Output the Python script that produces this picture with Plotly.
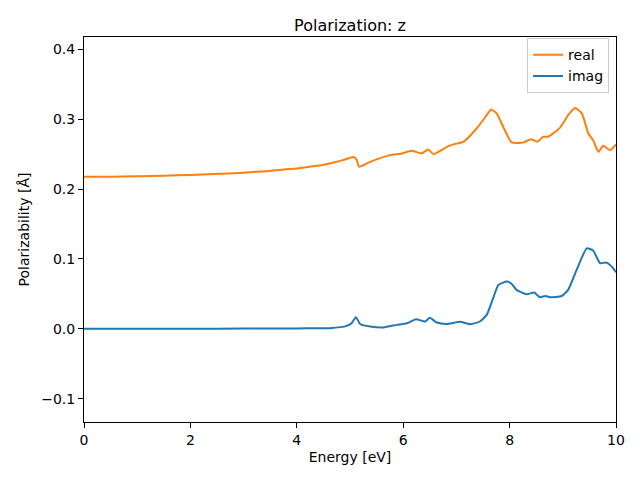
import plotly.graph_objects as go

# Energy grid and values
energy_real = [0.0, 0.5, 1.0, 1.5, 2.0, 2.44, 3.0, 3.5, 3.76, 4.0, 4.3, 4.62, 4.87, 5.06,
               5.12, 5.17, 5.38, 5.75, 5.95, 6.16, 6.35, 6.47, 6.57, 6.85, 7.0, 7.13,
               7.38, 7.57, 7.65, 7.76, 7.88, 8.04, 8.26, 8.40, 8.52, 8.63, 8.73, 8.95,
               9.10, 9.23, 9.36, 9.48, 9.57, 9.67, 9.76, 9.89, 10.0]
real_vals = [0.2176, 0.2178, 0.2185, 0.2192, 0.2203, 0.2214, 0.2235, 0.226, 0.228, 0.2295,
             0.2325, 0.2367, 0.2414, 0.246, 0.243, 0.232, 0.239, 0.2486, 0.2505, 0.2547,
             0.251, 0.2567, 0.25, 0.2614, 0.265, 0.2676, 0.2867, 0.3057, 0.314, 0.308,
             0.289, 0.2667, 0.2667, 0.2714, 0.2676, 0.2748, 0.2752, 0.288, 0.3057, 0.316,
             0.308, 0.2795, 0.27, 0.2533, 0.262, 0.2557, 0.264]

energy_imag = [0.0, 1.0, 2.0, 3.0, 4.0, 4.4, 4.62, 4.94, 5.03, 5.11, 5.19, 5.38, 5.63,
               5.88, 6.07, 6.24, 6.41, 6.50, 6.63, 6.82, 7.07, 7.26, 7.44, 7.57, 7.69,
               7.79, 7.95, 8.04, 8.13, 8.32, 8.46, 8.57, 8.67, 8.76, 8.98, 9.10, 9.26,
               9.45, 9.57, 9.70, 9.82, 9.92, 10.0]
imag_vals = [0.0, 0.0001, 0.0002, 0.0004, 0.0006, 0.0008, 0.001, 0.0043, 0.008, 0.0167,
             0.007, 0.0033, 0.002, 0.0057, 0.008, 0.0138, 0.0105, 0.0157, 0.009, 0.007,
             0.010, 0.0067, 0.0105, 0.020, 0.0438, 0.0629, 0.0676, 0.0643, 0.0557, 0.0495,
             0.052, 0.0453, 0.047, 0.0453, 0.047, 0.0557, 0.0843, 0.1152, 0.112, 0.094,
             0.0948, 0.089, 0.081]

x_ticks = [0, 2, 4, 6, 8, 10]
y_ticks = [-0.1, 0.0, 0.1, 0.2, 0.3, 0.4]

font = dict(family="DejaVu Sans", size=14, color="black")

fig = go.Figure()
fig.add_trace(go.Scatter(x=energy_real, y=real_vals, mode="lines", name="real",
                         line=dict(color="#ff7f0e", width=2, shape="spline", smoothing=0.5)))
fig.add_trace(go.Scatter(x=energy_imag, y=imag_vals, mode="lines", name="imag",
                         line=dict(color="#1f77b4", width=2, shape="spline", smoothing=0.5)))

axis_common = dict(showline=True, linecolor="black", linewidth=1, mirror=True,
                   ticks="outside", ticklen=5, tickwidth=1, tickcolor="black",
                   showgrid=False, zeroline=False, tickfont=font)

fig.update_layout(
    width=640, height=480,
    margin=dict(l=76, r=32, t=29, b=66),
    paper_bgcolor="white", plot_bgcolor="white",
    font=font,
    title=dict(text="Polarization: z", x=0.5, xref="paper", xanchor="center",
               y=1, yref="paper", yanchor="bottom", pad=dict(b=6),
               font=dict(family="DejaVu Sans", size=16, color="black")),
    xaxis=dict(range=[0, 10], tickvals=x_ticks, title=dict(text="Energy [eV]", standoff=5,
               font=font), **axis_common),
    yaxis=dict(range=[-0.1333, 0.4176], tickvals=y_ticks, tickformat=".1f",
               title=dict(text="Polarizability [Å]", standoff=8, font=font), **axis_common),
    legend=dict(x=0.987, y=0.997, xanchor="right", yanchor="top",
                bgcolor="rgba(255,255,255,0.8)", bordercolor="#cccccc", borderwidth=1,
                font=font, tracegroupgap=0, itemwidth=30),
    showlegend=True,
)

fig.write_html("out.html")
